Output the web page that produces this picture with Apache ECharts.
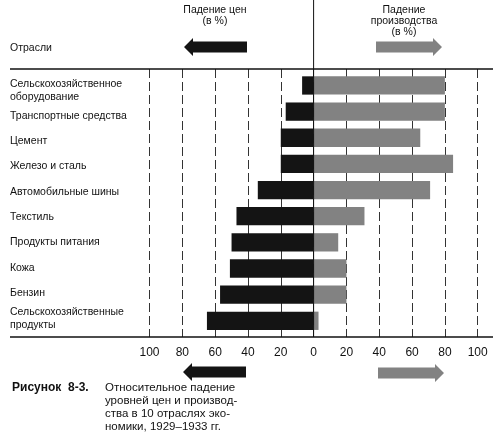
<!DOCTYPE html>
<html><head><meta charset="utf-8">
<script src="https://cdn.jsdelivr.net/npm/echarts@6/dist/echarts.min.js"></script>
<style>html,body{margin:0;padding:0;background:#fff}#c{width:498px;height:448px}</style>
</head><body><div id="c"></div>
<script>
const categories = [
  'Сельскохозяйственное\nоборудование',
  'Транспортные средства',
  'Цемент',
  'Железо и сталь',
  'Автомобильные шины',
  'Текстиль',
  'Продукты питания',
  'Кожа',
  'Бензин',
  'Сельскохозяйственные\nпродукты'
];
const priceDrop = [7, 17, 20, 20, 34, 47, 50, 51, 57, 65];
const productionDrop = [80, 80, 65, 85, 71, 31, 15, 20, 20, 3];

const FONT = "'Liberation Sans', Arial, sans-serif";
const BLACK = '#141414';
const GRAY = '#828282';

const chart = echarts.init(document.getElementById('c'), null, {renderer: 'canvas'});

function barItem(params, api) {
  const i = api.value(0), v = api.value(1);
  const p0 = api.coord([0, i]);
  const p1 = api.coord([v, i]);
  const h = api.size([0, 1])[1] * 0.7;
  return {
    type: 'rect',
    shape: {x: Math.min(p0[0], p1[0]), y: p0[1] - h / 2, width: Math.abs(p1[0] - p0[0]), height: h},
    style: api.style()
  };
}

const option = {
  animation: false,
  backgroundColor: '#fff',
  textStyle: {fontFamily: FONT},
  grid: {left: 149.5, right: 20.3, top: 69, bottom: 111, containLabel: false},
  xAxis: [{
    type: 'value', min: -100, max: 100, interval: 20, position: 'bottom',
    axisLine: {show: false}, axisTick: {show: false},
    axisLabel: {margin: 10, fontSize: 12, color: '#111', fontFamily: FONT,
      formatter: v => String(Math.abs(v))},
    splitLine: {show: true, lineStyle: {type: [9, 4], color: '#333', width: 1}}
  }, {
    type: 'value', min: -100, max: 100, interval: 20, position: 'top',
    axisLine: {show: false}, axisLabel: {show: false}, splitLine: {show: false},
    axisTick: {show: true, length: 6, inside: false, lineStyle: {color: '#333', width: 1}}
  }],
  yAxis: [
    {type: 'value', min: -0.63, max: 9.62, inverse: true, show: false},
    {type: 'value', min: -0.852, max: 9.737, inverse: true, show: false}
  ],
  series: [{
    type: 'custom', name: 'price', xAxisIndex: 0, yAxisIndex: 0,
    itemStyle: {color: BLACK},
    data: priceDrop.map((v, i) => [i, -v]),
    renderItem: barItem
  }, {
    type: 'custom', name: 'production', xAxisIndex: 0, yAxisIndex: 0,
    itemStyle: {color: GRAY},
    data: productionDrop.map((v, i) => [i, v]),
    renderItem: barItem
  }, {
    type: 'custom', name: 'labels', xAxisIndex: 0, yAxisIndex: 1, silent: true,
    data: categories.map((c, i) => [i, 0]),
    encode: {x: 1, y: 0},
    renderItem: function (params, api) {
      const i = api.value(0);
      const p = api.coord([0, i]);
      return {
        type: 'text', x: 10, y: p[1],
        style: {text: categories[i], fill: '#111', font: '10.5px ' + FONT,
          verticalAlign: 'middle', align: 'left', lineHeight: 13}
      };
    }
  }]
};
chart.setOption(option);

const x0 = chart.convertToPixel({xAxisIndex: 0}, 0);
const yBot = chart.convertToPixel({yAxisIndex: 0}, 9.62);
const yTop = chart.convertToPixel({yAxisIndex: 0}, -0.63);

function arrow(xl, xr, cy, dir, color) {
  const hl = 9, hh = 9, sh = 5.5;
  let pts;
  if (dir < 0) {
    pts = [[xl, cy], [xl + hl, cy - hh], [xl + hl, cy - sh], [xr, cy - sh], [xr, cy + sh], [xl + hl, cy + sh], [xl + hl, cy + hh]];
  } else {
    pts = [[xr, cy], [xr - hl, cy - hh], [xr - hl, cy - sh], [xl, cy - sh], [xl, cy + sh], [xr - hl, cy + sh], [xr - hl, cy + hh]];
  }
  return {type: 'polygon', shape: {points: pts}, style: {fill: color}, z: 10};
}
function txt(x, y, text, opts) {
  return {type: 'text', x: x, y: y, z: 10,
    style: Object.assign({text: text, fill: '#111', font: '10.5px ' + FONT, align: 'left', verticalAlign: 'middle'}, opts || {})};
}

chart.setOption({
  graphic: [
    {type: 'line', shape: {x1: x0, y1: 0, x2: x0, y2: yBot}, style: {stroke: '#111', lineWidth: 1}, z: 11},
    {type: 'line', shape: {x1: 10, y1: yTop, x2: 493, y2: yTop}, style: {stroke: '#111', lineWidth: 1.5}, z: 11},
    {type: 'line', shape: {x1: 10, y1: yBot, x2: 493, y2: yBot}, style: {stroke: '#111', lineWidth: 1.5}, z: 11},
    txt(215, 10, 'Падение цен', {align: 'center'}),
    txt(215, 21, '(в %)', {align: 'center'}),
    txt(404, 10, 'Падение', {align: 'center'}),
    txt(404, 21, 'производства', {align: 'center'}),
    txt(404, 32, '(в %)', {align: 'center'}),
    txt(10, 48, 'Отрасли'),
    arrow(184, 247, 47, -1, BLACK),
    arrow(376, 442, 47, 1, GRAY),
    arrow(183, 246, 372, -1, BLACK),
    arrow(378, 444, 373, 1, GRAY),
    txt(12, 388, 'Рисунок  8-3.', {font: 'bold 12px ' + FONT}),
    txt(105, 388, 'Относительное падение', {font: '11.5px ' + FONT}),
    txt(105, 401, 'уровней цен и производ-', {font: '11.5px ' + FONT}),
    txt(105, 414, 'ства в 10 отраслях эко-', {font: '11.5px ' + FONT}),
    txt(105, 427, 'номики, 1929–1933 гг.', {font: '11.5px ' + FONT})
  ]
});
</script></body></html>
